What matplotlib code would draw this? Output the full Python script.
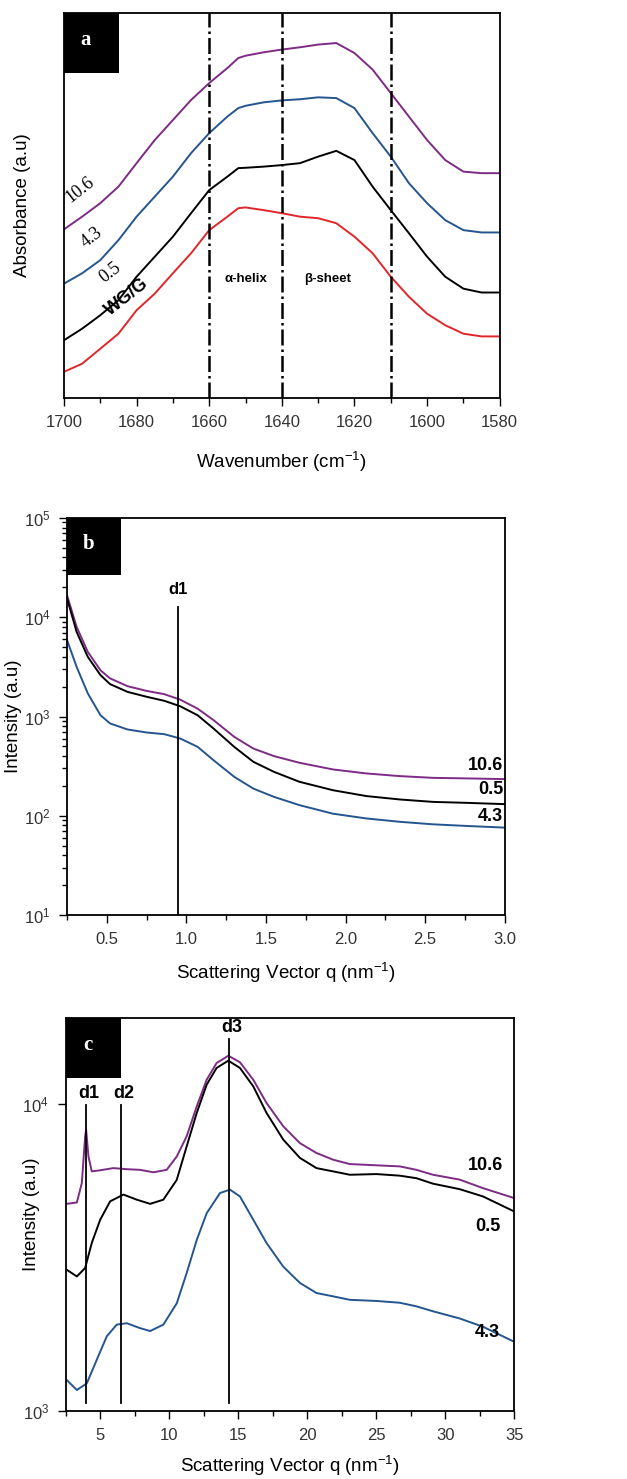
import numpy as np
import matplotlib
matplotlib.use("Agg")
import matplotlib.pyplot as plt
import matplotlib.patches as mpatches
from matplotlib.ticker import MultipleLocator, LogLocator, NullFormatter, NullLocator

plt.rcParams["font.family"] = ["Liberation Sans", "DejaVu Sans"]
plt.rcParams["mathtext.fontset"] = "custom"
plt.rcParams["mathtext.rm"] = "Liberation Sans"

# ── Panel a: FTIR amide I (absorbance, arbitrary units) ──────────────────────
wn = [1700, 1695, 1690, 1685, 1680, 1675, 1670, 1665, 1660, 1655, 1652, 1650,
      1645, 1640, 1635, 1630, 1625, 1620, 1615, 1610, 1605, 1600, 1595, 1590,
      1585, 1580]
abs_wgg = [0.068, 0.089, 0.128, 0.167, 0.228, 0.271, 0.324, 0.376, 0.436, 0.471,
           0.493, 0.495, 0.488, 0.480, 0.471, 0.467, 0.454, 0.419, 0.376, 0.315,
           0.263, 0.219, 0.189, 0.167, 0.160, 0.160]
abs_05 = [0.150, 0.180, 0.215, 0.254, 0.315, 0.367, 0.419, 0.480, 0.540, 0.575,
          0.597, 0.598, 0.601, 0.605, 0.610, 0.627, 0.642, 0.618, 0.549, 0.488,
          0.428, 0.367, 0.315, 0.284, 0.274, 0.274]
abs_43 = [0.297, 0.324, 0.358, 0.410, 0.471, 0.523, 0.575, 0.636, 0.688, 0.731,
          0.753, 0.759, 0.768, 0.773, 0.776, 0.781, 0.779, 0.753, 0.688, 0.627,
          0.558, 0.506, 0.462, 0.436, 0.430, 0.430]
abs_106 = [0.438, 0.471, 0.506, 0.549, 0.610, 0.670, 0.722, 0.774, 0.818, 0.857,
           0.883, 0.889, 0.898, 0.905, 0.911, 0.918, 0.922, 0.896, 0.853, 0.792,
           0.731, 0.670, 0.618, 0.588, 0.584, 0.584]
band_lines = [1660, 1640, 1610]

# ── Panel b: SAXS ────────────────────────────────────────────────────────────
q_saxs = [0.25, 0.31, 0.38, 0.46, 0.52, 0.63, 0.75, 0.86, 0.96, 1.07, 1.17,
          1.30, 1.42, 1.55, 1.71, 1.92, 2.13, 2.34, 2.55, 2.76, 3.0]
saxs_106 = [16600, 8000, 4480, 2920, 2420, 2020, 1810, 1680, 1480, 1200, 920,
            624, 476, 399, 342, 293, 267, 251, 241, 238, 234]
saxs_05 = [15400, 7110, 3990, 2610, 2120, 1770, 1580, 1440, 1270, 1030, 757,
           495, 350, 277, 220, 181, 158, 146, 138, 135, 131]
saxs_43 = [5860, 3160, 1710, 1030, 851, 740, 690, 664, 601, 495, 363,
           247, 188, 155, 128, 105, 94, 87, 82, 79, 76]
saxs_d1 = 0.95

# ── Panel c: WAXS ────────────────────────────────────────────────────────────
q_106 = [2.57, 3.3, 3.66, 3.9, 3.97, 4.14, 4.38, 4.99, 5.95, 6.92, 7.88, 8.85,
         9.81, 10.54, 11.26, 11.99, 12.71, 13.43, 14.28, 15.12, 16.09, 17.05,
         18.26, 19.47, 20.67, 21.88, 23.09, 25.02, 26.71, 27.92, 29.12, 31.05,
         32.74, 35.0]
waxs_106 = [4720, 4770, 5520, 7830, 8230, 6730, 6020, 6070, 6170, 6120, 6090,
            5980, 6090, 6730, 7830, 9800, 11960, 13560, 14320, 13640, 11960,
            10050, 8440, 7440, 6910, 6570, 6360, 6300, 6250, 6090, 5870, 5660,
            5310, 4930]
q_05 = [2.57, 3.3, 3.9, 4.38, 4.99, 5.71, 6.68, 7.64, 8.61, 9.57, 10.54, 11.26,
        11.99, 12.71, 13.43, 14.28, 15.12, 16.09, 17.05, 18.26, 19.47, 20.67,
        21.88, 23.09, 25.02, 26.71, 27.92, 29.12, 31.05, 32.74, 35.0]
waxs_05 = [2880, 2740, 2920, 3520, 4190, 4810, 5060, 4870, 4720, 4870, 5650,
           7260, 9330, 11530, 13070, 13800, 13070, 11380, 9330, 7640, 6660,
           6170, 6020, 5870, 5900, 5830, 5720, 5490, 5270, 4990, 4460]
q_43 = [2.57, 3.3, 4.02, 4.75, 5.47, 6.19, 6.92, 7.88, 8.61, 9.57, 10.54, 11.26,
        11.99, 12.71, 13.68, 14.4, 15.12, 16.09, 17.05, 18.26, 19.47, 20.67,
        21.88, 23.09, 25.02, 26.71, 27.92, 29.12, 31.05, 32.74, 35.0]
waxs_43 = [1260, 1170, 1230, 1470, 1750, 1910, 1930, 1860, 1820, 1910, 2240,
           2810, 3600, 4400, 5120, 5250, 4990, 4190, 3520, 2950, 2610, 2420,
           2360, 2300, 2280, 2250, 2190, 2110, 2000, 1880, 1680]
waxs_d = [3.97, 6.48, 14.33]
waxs_d_names = ["d1", "d2", "d3"]

PURPLE = "#7d2b84"
BLUE = "#24558f"
RED = "#e0262a"
TICK_COL = "#333333"


def panel_box(ax, letter, w, h):
    """Black label box in the top-left corner."""
    ax.add_patch(mpatches.Rectangle((0, 1 - h), w, h, transform=ax.transAxes,
                                    facecolor="black", edgecolor="none",
                                    zorder=5, clip_on=False))
    ax.text(w * 0.4, 1 - h * 0.45, letter, transform=ax.transAxes,
            color="white", fontsize=15, fontweight="bold",
            family=["Liberation Serif"], ha="center", va="center", zorder=6)


def style_axes(ax):
    for s in ax.spines.values():
        s.set_linewidth(1.3)
    ax.tick_params(which="both", direction="out", labelsize=12,
                   labelcolor=TICK_COL, width=1.0, pad=6)
    ax.tick_params(which="major", length=6)
    ax.tick_params(which="minor", length=3.5)


def place_labels(ax, xlab, ylab, xy_x, xy_y):
    ax.set_xlabel(xlab, fontsize=13.5)
    ax.set_ylabel(ylab, fontsize=13.5)
    ax.xaxis.label.set_va("center")
    ax.yaxis.label.set_va("center")
    ax.xaxis.set_label_coords(0.5, xy_y)
    ax.yaxis.set_label_coords(xy_x, 0.5)


fig = plt.figure(figsize=(6.27, 14.79), dpi=100)

# ── a ───────────────────────────────────────────────────────────────────────
ax = fig.add_axes([0.102, 0.7309, 0.695, 0.2603])
ax.plot(wn, abs_wgg, color=RED, lw=1.4)
ax.plot(wn, abs_05, color="black", lw=1.4)
ax.plot(wn, abs_43, color=BLUE, lw=1.4)
ax.plot(wn, abs_106, color=PURPLE, lw=1.4)
for b in band_lines:
    ax.axvline(b, color="black", lw=1.8, ls="-.")
ax.set_xlim(1700, 1580)
ax.set_ylim(0, 1)
ax.xaxis.set_major_locator(MultipleLocator(20))
ax.xaxis.set_minor_locator(MultipleLocator(10))
ax.yaxis.set_major_locator(NullLocator())
style_axes(ax)
place_labels(ax, "Wavenumber (cm$^{-1}$)", "Absorbance (a.u)", -0.096, -0.166)
serif = ["Liberation Serif"]
ax.text(1695.6, 0.540, "10.6", rotation=38, fontsize=13, family=serif, ha="center", va="center")
ax.text(1692.3, 0.418, "4.3", rotation=38, fontsize=13, family=serif, ha="center", va="center")
ax.text(1687.3, 0.325, "0.5", rotation=38, fontsize=13, family=serif, ha="center", va="center")
ax.text(1682.7, 0.262, "WG/G", rotation=38, fontsize=13, fontweight="bold", ha="center", va="center")
ax.text(1650, 0.31, "α-helix", fontsize=9.5, fontweight="bold", ha="center", va="center")
ax.text(1627.5, 0.31, "β-sheet", fontsize=9.5, fontweight="bold", ha="center", va="center")
panel_box(ax, "a", 0.126, 0.156)

# ── b ───────────────────────────────────────────────────────────────────────
ax = fig.add_axes([0.107, 0.3813, 0.698, 0.2685])
ax.plot(q_saxs, saxs_106, color=PURPLE, lw=1.4)
ax.plot(q_saxs, saxs_05, color="black", lw=1.4)
ax.plot(q_saxs, saxs_43, color=BLUE, lw=1.4)
ax.set_yscale("log")
ax.set_xlim(0.25, 3.0)
ax.set_ylim(10, 1e5)
ax.plot([saxs_d1, saxs_d1], [10.3, 12700], color="black", lw=1.3)
ax.text(saxs_d1, 16000, "d1", fontsize=12, fontweight="bold", ha="center", va="bottom")
ax.xaxis.set_major_locator(MultipleLocator(0.5))
ax.xaxis.set_minor_locator(MultipleLocator(0.25))
ax.xaxis.set_major_formatter(matplotlib.ticker.FormatStrFormatter("%.1f"))
ax.yaxis.set_major_locator(LogLocator(base=10, numticks=10))
ax.yaxis.set_minor_locator(LogLocator(base=10, subs=np.arange(2, 10), numticks=10))
ax.yaxis.set_minor_formatter(NullFormatter())
style_axes(ax)
place_labels(ax, "Scattering Vector q (nm$^{-1}$)", "Intensity (a.u)", -0.122, -0.145)
ax.text(2.99, 265, "10.6", fontsize=13, fontweight="bold", ha="right", va="bottom")
ax.text(2.99, 150, "0.5", fontsize=13, fontweight="bold", ha="right", va="bottom")
ax.text(2.99, 80, "4.3", fontsize=13, fontweight="bold", ha="right", va="bottom")
panel_box(ax, "b", 0.124, 0.144)

# ── c ───────────────────────────────────────────────────────────────────────
ax = fig.add_axes([0.105, 0.0460, 0.715, 0.2657])
ax.plot(q_106, waxs_106, color=PURPLE, lw=1.4)
ax.plot(q_05, waxs_05, color="black", lw=1.4)
ax.plot(q_43, waxs_43, color=BLUE, lw=1.4)
ax.set_yscale("log")
ax.set_xlim(2.5, 35)
ax.set_ylim(1000, 19000)
tops = [9930, 9930, 16260]
for qd, top, name in zip(waxs_d, tops, waxs_d_names):
    ax.plot([qd, qd], [1060, top], color="black", lw=1.3)
    ax.text(qd + 0.2, top * 1.02, name, fontsize=13, fontweight="bold",
            ha="center", va="bottom")
ax.xaxis.set_major_locator(MultipleLocator(5))
ax.xaxis.set_minor_locator(MultipleLocator(2.5))
ax.yaxis.set_major_locator(LogLocator(base=10, numticks=10))
ax.yaxis.set_minor_locator(NullLocator())
ax.yaxis.set_minor_formatter(NullFormatter())
style_axes(ax)
place_labels(ax, "Scattering Vector q (nm$^{-1}$)", "Intensity (a.u)", -0.076, -0.138)
ax.text(34.2, 6300, "10.6", fontsize=13, fontweight="bold", ha="right", va="center")
ax.text(34.0, 3980, "0.5", fontsize=13, fontweight="bold", ha="right", va="center")
ax.text(34.0, 1800, "4.3", fontsize=13, fontweight="bold", ha="right", va="center")
panel_box(ax, "c", 0.123, 0.153)

fig.savefig("out.png", dpi=100)
